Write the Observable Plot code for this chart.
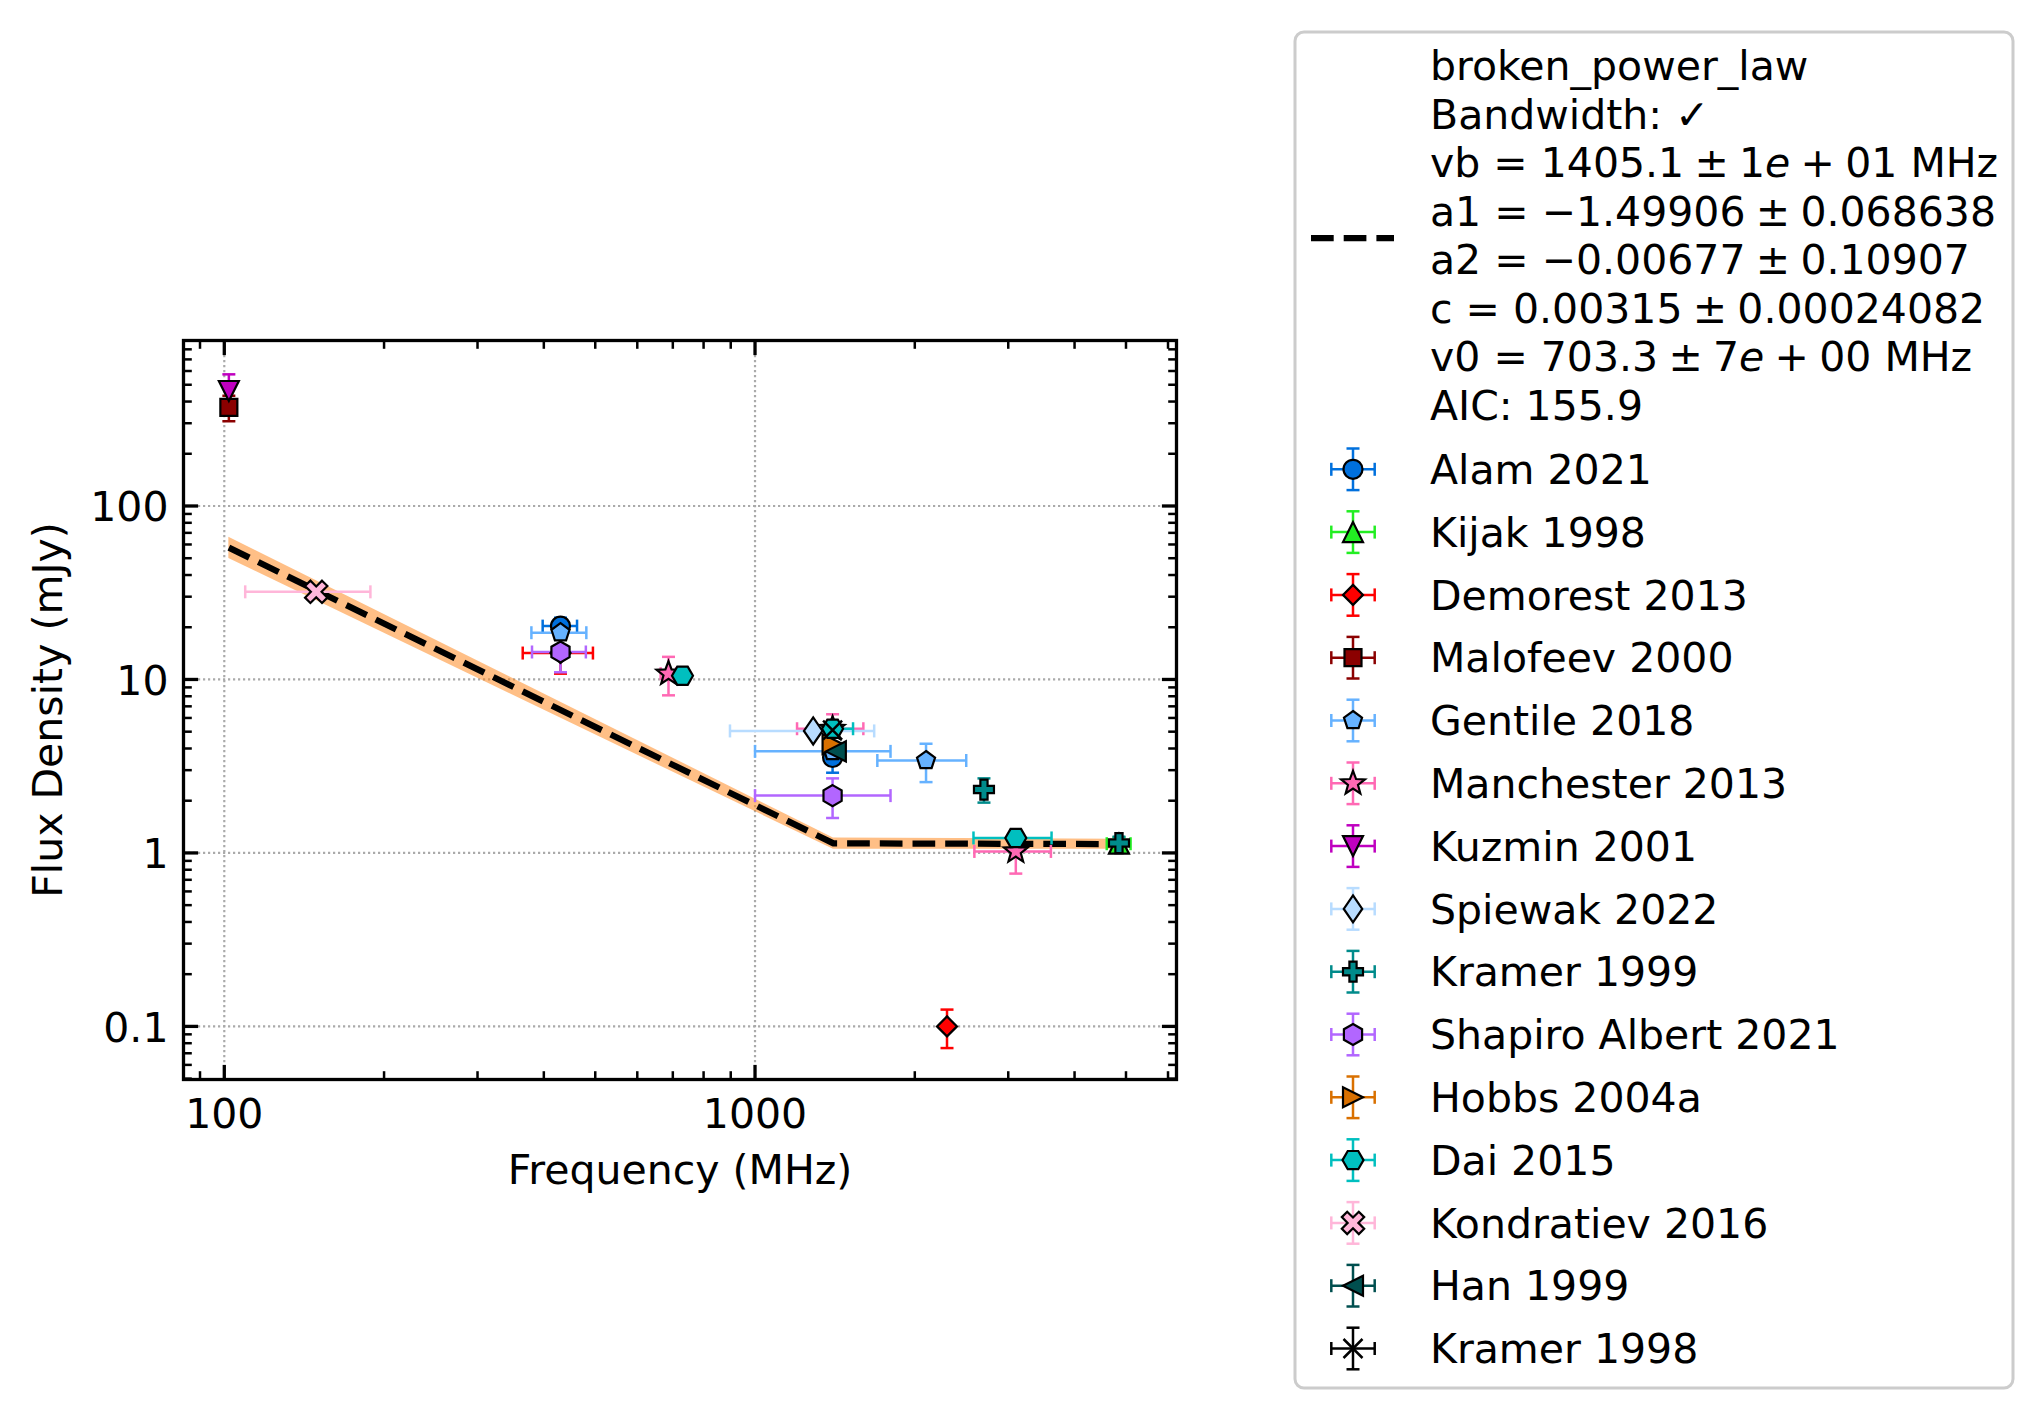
<!DOCTYPE html>
<html>
<head>
<meta charset="utf-8">
<script src="https://cdn.jsdelivr.net/npm/d3@7"></script>
<script src="https://cdn.jsdelivr.net/npm/@observablehq/plot@0.6"></script>
<style>
  body { margin: 0; background: #ffffff; }
  #wrap { position: relative; width: 2044px; height: 1419px; background: #ffffff; font-family: "DejaVu Sans"; }
  #wrap svg { position: absolute; left: 0; top: 0; }
</style>
</head>
<body>
<div id="wrap"></div>
<script>
// ---------------- data ----------------
const seriesNames = ["Alam 2021", "Kijak 1998", "Demorest 2013", "Malofeev 2000", "Gentile 2018",
  "Manchester 2013", "Kuzmin 2001", "Spiewak 2022", "Kramer 1999", "Shapiro Albert 2021",
  "Hobbs 2004a", "Dai 2015", "Kondratiev 2016", "Han 1999", "Kramer 1998"];
const seriesColors = ["#0070dd", "#22ee22", "#ff0000", "#8b0000", "#66b2ff",
  "#ff69b4", "#bf00bf", "#b8dcff", "#008b8b", "#b266ff",
  "#d97000", "#00bfbf", "#ffb6d9", "#004f4f", "#000000"];
const seriesMarkers = ["circle", "triangleUp", "diamond", "square", "pentagon",
  "star", "triangleDown", "thinDiamond", "plusFilled", "hexagon",
  "triangleRight", "hexagon2", "xFilled", "triangleLeft", "x"];

// one entry per measurement
const pointSeries = [0, 0, 1, 2, 2, 3, 4, 4, 4, 5, 5, 5, 6, 7, 8, 8, 9, 9, 10, 11, 11, 11, 12, 13, 14];
const freqMHz =     [430, 1400, 4850, 430, 2300, 102, 430, 1400, 2100, 687, 1400, 3100, 102, 1287, 2700, 4850, 430, 1400, 1400, 730, 1400, 3100, 149, 1420, 1400];
const fluxMJy =     [20.3, 3.55, 1.13, 14.2, 0.1, 370, 18.6, 3.85, 3.41, 10.8, 5.2, 1.02, 460, 5.05, 2.32, 1.14, 14.4, 2.14, 4.25, 10.5, 5.2, 1.22, 32, 3.85, 5.1];
const fluxErr =     [2.4, 0.65, 0.1, 3.4, 0.025, 62, 3.0, 0.5, 0.85, 2.7, 1.1, 0.26, 114, 0.3, 0.37, 0.1, 3.4, 0.55, 0.4, 0.5, 0.3, 0.1, 2, 0.4, 0.3];
const freqErr =     [32, 0, 250, 65, 0, 0, 51, 400, 400, 23, 200, 510, 0, 390, 0, 0, 50, 400, 0, 0, 130, 520, 39.5, 0, 0];

// fitted broken power law and its uncertainty band
const fitFreq = [102, 1405, 4850];
const fitFlux = [57.5, 1.135, 1.125];
const fitLow  = [49.8, 1.05, 1.05];
const fitHigh = [66, 1.22, 1.2];

const SP = "\u2005"; // narrower math spacing
const fitLegendLines = [
  [["broken_power_law"]],
  [["Bandwidth: ✓"]],
  [["vb = 1405.1" + SP + "±" + SP + "1"], ["e", true], [SP + "+" + SP + "01 MHz"]],
  [["a1 = −1.49906" + SP + "±" + SP + "0.068638"]],
  [["a2 = −0.00677" + SP + "±" + SP + "0.10907"]],
  [["c = 0.00315" + SP + "±" + SP + "0.00024082"]],
  [["v0 = 703.3" + SP + "±" + SP + "7"], ["e", true], [SP + "+" + SP + "00 MHz"]],
  [["AIC: 155.9"]]
];

const xMajorTicks = [100, 1000];
const xTickLabels = ["100", "1000"];
const xMinorTicks = [90, 200, 300, 400, 500, 600, 700, 800, 900, 2000, 3000, 4000, 5000, 6000];
const yMajorTicks = [0.1, 1, 10, 100];
const yTickLabels = ["0.1", "1", "10", "100"];
const yMinorTicks = [0.05, 0.06, 0.07, 0.08, 0.09, 0.2, 0.3, 0.4, 0.5, 0.6, 0.7, 0.8, 0.9,
  2, 3, 4, 5, 6, 7, 8, 9, 20, 30, 40, 50, 60, 70, 80, 90, 200, 300, 400, 500, 600, 700, 800];

// ---------------- symbols ----------------
function polySym(pts) {
  return { draw(c) { c.moveTo(pts[0][0], pts[0][1]); for (let k = 1; k < pts.length; k++) c.lineTo(pts[k][0], pts[k][1]); c.closePath(); } };
}
function regularPts(n, R, a0) {
  const p = [];
  for (let k = 0; k < n; k++) { const a = a0 + 2 * Math.PI * k / n; p.push([R * Math.cos(a), R * Math.sin(a)]); }
  return p;
}
function starPts(R, r) {
  const p = [];
  for (let k = 0; k < 10; k++) { const a = -Math.PI / 2 + Math.PI * k / 5; const rr = k % 2 ? r : R; p.push([rr * Math.cos(a), rr * Math.sin(a)]); }
  return p;
}
function plusPts(o, w, rot) {
  const base = [[-w,-o],[w,-o],[w,-w],[o,-w],[o,w],[w,w],[w,o],[-w,o],[-w,w],[-o,w],[-o,-w],[-w,-w]];
  const c = Math.cos(rot), s = Math.sin(rot);
  return base.map(([x, y]) => [x * c - y * s, x * s + y * c]);
}
const symbolDefs = {
  circle: { draw(c) { c.moveTo(9.5, 0); c.arc(0, 0, 9.5, 0, 2 * Math.PI); } },
  triangleUp: polySym([[0, -10], [-10, 10], [10, 10]]),
  triangleDown: polySym([[0, 10], [-10, -10], [10, -10]]),
  triangleRight: polySym([[10, 0], [-10, -10], [-10, 10]]),
  triangleLeft: polySym([[-10, 0], [10, -10], [10, 10]]),
  diamond: polySym([[0, -10], [10, 0], [0, 10], [-10, 0]]),
  thinDiamond: polySym([[0, -13.5], [9.25, 0], [0, 13.5], [-9.25, 0]]),
  square: polySym([[-8.5, -8.5], [8.5, -8.5], [8.5, 8.5], [-8.5, 8.5]]),
  pentagon: polySym(regularPts(5, 9.5, -Math.PI / 2)),
  star: polySym(starPts(12.5, 12.5 * 0.42)),
  hexagon: polySym(regularPts(6, 10.5, -Math.PI / 2)),
  hexagon2: polySym(regularPts(6, 10.5, 0)),
  plusFilled: polySym(plusPts(10, 3.6, 0)),
  xFilled: polySym(plusPts(12, 3.8, Math.PI / 4)),
  x: { draw(c) { c.moveTo(-9.5, -9.5); c.lineTo(9.5, 9.5); c.moveTo(-9.5, 9.5); c.lineTo(9.5, -9.5); } }
};
const capH = { draw(c) { c.moveTo(-6.5, 0); c.lineTo(6.5, 0); } };
const capV = { draw(c) { c.moveTo(0, -6.5); c.lineTo(0, 6.5); } };
const tickSym = (dx, dy) => ({ draw(c) { c.moveTo(0, 0); c.lineTo(dx, dy); } });

// ---------------- layout ----------------
const W = 1200, H = 1230;
const FL = 183, FR = 1176, FT = 340, FB = 1079;
const FONT = "DejaVu Sans", FS = 41;

const points = freqMHz.map((f, i) => ({ s: pointSeries[i], f, y: fluxMJy[i], ye: fluxErr[i], xe: freqErr[i] }));
const fit = fitFreq.map((f, i) => ({ f, y: fitFlux[i], lo: fitLow[i], hi: fitHigh[i] }));

const barMarks = [], markerMarks = [];
seriesNames.forEach((name, s) => {
  const col = seriesColors[s];
  const d = points.filter(p => p.s === s);
  const dy = d.filter(p => p.ye > 0), dx = d.filter(p => p.xe > 0);
  const eb = { stroke: col, strokeWidth: 2.5, strokeOpacity: 1 };
  barMarks.push(
    Plot.ruleX(dy, { x: "f", y1: p => p.y - p.ye, y2: p => p.y + p.ye, ...eb }),
    Plot.ruleY(dx, { y: "y", x1: p => p.f - p.xe, x2: p => p.f + p.xe, ...eb }),
    Plot.dot(dy, { x: "f", y: p => p.y - p.ye, symbol: capH, fill: "none", ...eb }),
    Plot.dot(dy, { x: "f", y: p => p.y + p.ye, symbol: capH, fill: "none", ...eb }),
    Plot.dot(dx, { x: p => p.f - p.xe, y: "y", symbol: capV, fill: "none", ...eb }),
    Plot.dot(dx, { x: p => p.f + p.xe, y: "y", symbol: capV, fill: "none", ...eb })
  );
  const isLine = seriesMarkers[s] === "x";
  markerMarks.push(Plot.dot(d, {
    x: "f", y: "y", symbol: symbolDefs[seriesMarkers[s]],
    fill: isLine ? "none" : col, stroke: "black", strokeWidth: isLine ? 2.5 : 2.2, strokeLinejoin: "miter"
  }));
});

const tickStyle = (w) => ({ fill: "none", stroke: "black", strokeWidth: w, strokeLinecap: "butt" });

const chart = Plot.plot({
  width: W, height: H,
  marginLeft: FL, marginRight: W - FR, marginTop: FT, marginBottom: H - FB,
  x: { type: "log", domain: [83.78, 6225], axis: null },
  y: { type: "log", domain: [0.04942, 899.5], axis: null },
  style: { background: "transparent", fontFamily: FONT, overflow: "visible" },
  marks: [
    Plot.gridX(xMajorTicks, { stroke: "#aaaaaa", strokeOpacity: 1, strokeWidth: 2.2, strokeDasharray: "2.2,2.8" }),
    Plot.gridY(yMajorTicks, { stroke: "#aaaaaa", strokeOpacity: 1, strokeWidth: 2.2, strokeDasharray: "2.2,2.8" }),
    Plot.areaY(fit, { x: "f", y1: "lo", y2: "hi", fill: "#ff7f0e", fillOpacity: 0.5 }),
    Plot.line(fit, { x: "f", y: "y", stroke: "black", strokeWidth: 6.25, strokeDasharray: "22.7,10", strokeLinecap: "butt", strokeLinejoin: "round" }),
    ...barMarks,
    ...markerMarks,
    // ticks (inward, all four sides)
    Plot.dot(xMajorTicks, { x: d => d, frameAnchor: "bottom", symbol: tickSym(0, -14.6), ...tickStyle(3.3) }),
    Plot.dot(xMajorTicks, { x: d => d, frameAnchor: "top", symbol: tickSym(0, 14.6), ...tickStyle(3.3) }),
    Plot.dot(xMinorTicks, { x: d => d, frameAnchor: "bottom", symbol: tickSym(0, -8.3), ...tickStyle(2.5) }),
    Plot.dot(xMinorTicks, { x: d => d, frameAnchor: "top", symbol: tickSym(0, 8.3), ...tickStyle(2.5) }),
    Plot.dot(yMajorTicks, { y: d => d, frameAnchor: "left", symbol: tickSym(14.6, 0), ...tickStyle(3.3) }),
    Plot.dot(yMajorTicks, { y: d => d, frameAnchor: "right", symbol: tickSym(-14.6, 0), ...tickStyle(3.3) }),
    Plot.dot(yMinorTicks, { y: d => d, frameAnchor: "left", symbol: tickSym(8.3, 0), ...tickStyle(2.5) }),
    Plot.dot(yMinorTicks, { y: d => d, frameAnchor: "right", symbol: tickSym(-8.3, 0), ...tickStyle(2.5) }),
    Plot.frame({ stroke: "black", strokeWidth: 3.3 }),
    // tick labels
    Plot.text(xMajorTicks, { x: d => d, frameAnchor: "bottom", text: (d, i) => xTickLabels[i], dy: 48, textAnchor: "middle", lineAnchor: "bottom", fontSize: FS, fontFamily: FONT, fill: "black" }),
    Plot.text(yMajorTicks, { y: d => d, frameAnchor: "left", text: (d, i) => yTickLabels[i], dx: -15, dy: 2, textAnchor: "end", lineAnchor: "middle", fontSize: FS, fontFamily: FONT, fill: "black" }),
    // axis labels
    Plot.text(["Frequency (MHz)"], { frameAnchor: "bottom", text: d => d, dy: 1183 - FB, textAnchor: "middle", lineAnchor: "bottom", fontSize: FS, fontFamily: FONT, fill: "black" }),
    Plot.text(["Flux Density (mJy)"], { frameAnchor: "left", text: d => d, rotate: -90, dx: 61.7 - FL, textAnchor: "middle", lineAnchor: "bottom", fontSize: FS, fontFamily: FONT, fill: "black" })
  ]
});
const wrap = document.getElementById("wrap");
wrap.appendChild(chart);

// ---------------- legend ----------------
const lg = d3.select(wrap).append("svg")
  .attr("width", 2044).attr("height", 1419)
  .style("pointer-events", "none")
  .style("font-family", FONT);

lg.append("rect").attr("x", 1295).attr("y", 32).attr("width", 718).attr("height", 1356)
  .attr("rx", 9).attr("fill", "white").attr("fill-opacity", 0.8)
  .attr("stroke", "#cccccc").attr("stroke-width", 3);

// fit entry
lg.append("line").attr("x1", 1311).attr("x2", 1394).attr("y1", 238).attr("y2", 238)
  .attr("stroke", "black").attr("stroke-width", 6.25).attr("stroke-dasharray", "22.7,10");
fitLegendLines.forEach((parts, i) => {
  const t = lg.append("text").attr("x", 1430).attr("y", 80 + 48.5 * i)
    .attr("font-size", FS).attr("fill", "black");
  parts.forEach(([txt, ital]) => {
    t.append("tspan").attr("font-style", ital ? "italic" : "normal").text(txt);
  });
});

// data entries
const symPath = (sym) => { const p = d3.path(); sym.draw(p, 0); return p.toString(); };
seriesNames.forEach((name, s) => {
  const cy = 469.3 + 62.8 * s, cx = 1353;
  const col = seriesColors[s];
  const g = lg.append("g");
  const ln = (x1, y1, x2, y2) => g.append("line").attr("x1", x1).attr("y1", y1).attr("x2", x2).attr("y2", y2)
    .attr("stroke", col).attr("stroke-width", 2.5);
  ln(cx, cy - 20.8, cx, cy + 20.8);
  ln(cx - 21.7, cy, cx + 21.7, cy);
  ln(cx - 6.5, cy - 20.8, cx + 6.5, cy - 20.8);
  ln(cx - 6.5, cy + 20.8, cx + 6.5, cy + 20.8);
  ln(cx - 21.7, cy - 6.5, cx - 21.7, cy + 6.5);
  ln(cx + 21.7, cy - 6.5, cx + 21.7, cy + 6.5);
  const isLine = seriesMarkers[s] === "x";
  g.append("path").attr("d", symPath(symbolDefs[seriesMarkers[s]]))
    .attr("transform", `translate(${cx},${cy})`)
    .attr("fill", isLine ? "none" : col).attr("stroke", "black")
    .attr("stroke-width", isLine ? 2.5 : 2.2);
  lg.append("text").attr("x", 1430).attr("y", 484 + 62.8 * s)
    .attr("font-size", FS).attr("fill", "black").text(name);
});
</script>
</body>
</html>
